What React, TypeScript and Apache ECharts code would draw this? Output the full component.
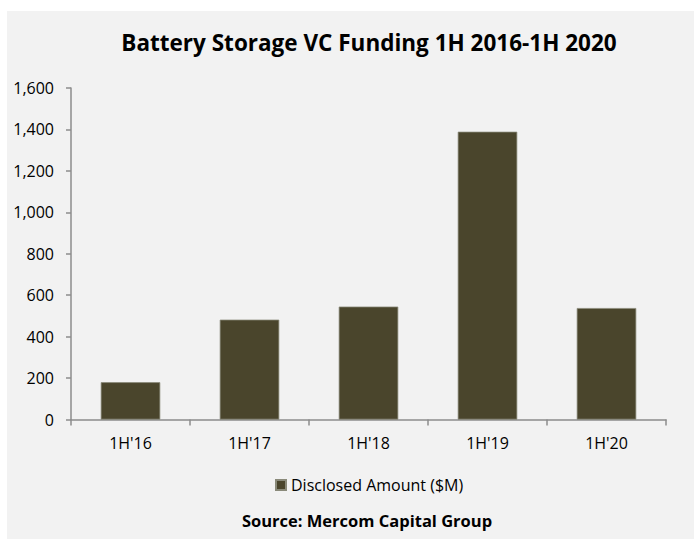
import React, { useEffect, useRef } from "react";
import * as echarts from "echarts";

const categories = ["1H'16", "1H'17", "1H'18", "1H'19", "1H'20"];
const amounts = [180, 482, 545, 1389, 538];
const seriesName = "Disclosed Amount ($M)";
const titleText = "Battery Storage VC Funding 1H 2016-1H 2020";
const sourceText = "Source: Mercom Capital Group";

const FONT = "'Open Sans', 'Noto Sans', sans-serif";

export default function App() {
  const ref = useRef<HTMLDivElement>(null);
  useEffect(() => {
    if (!ref.current) return;
    const chart = echarts.init(ref.current, null, { renderer: "svg" });
    chart.setOption({
      animation: false,
      backgroundColor: "#ffffff",
      textStyle: { fontFamily: FONT },
      graphic: [
        {
          type: "rect",
          z: -10,
          silent: true,
          shape: { x: 7, y: 11, width: 700, height: 540 },
          style: { fill: "#f2f2f2" },
        },
        {
          type: "text",
          x: 369,
          y: 42,
          style: {
            text: titleText,
            font: `bold 22.5px ${FONT}`,
            fill: "#000",
            textAlign: "center",
            textVerticalAlign: "middle",
          },
        },
        {
          type: "text",
          x: 367,
          y: 520,
          style: {
            text: sourceText,
            font: `bold 16.5px ${FONT}`,
            fill: "#000",
            textAlign: "center",
            textVerticalAlign: "middle",
          },
        },
      ],
      grid: { left: 71, right: 28, top: 88, bottom: 119.5, containLabel: false },
      legend: {
        data: [seriesName],
        left: 270,
        top: 472,
        icon: "rect",
        itemWidth: 10,
        itemHeight: 10,
        itemGap: 8,
        textStyle: { fontFamily: FONT, fontSize: 16, color: "#000" },
      },
      xAxis: {
        type: "category",
        data: categories,
        axisLine: { lineStyle: { color: "#8c8c8c", width: 1.5 } },
        axisTick: { show: true, length: 6, lineStyle: { color: "#8c8c8c", width: 1.5 } },
        axisLabel: { color: "#000", fontSize: 16, fontFamily: FONT, margin: 15 },
      },
      yAxis: {
        type: "value",
        min: 0,
        max: 1600,
        interval: 200,
        splitLine: { show: false },
        axisLine: { show: true, lineStyle: { color: "#8c8c8c", width: 1.5 } },
        axisTick: { show: true, length: 5, lineStyle: { color: "#8c8c8c", width: 1.5 } },
        axisLabel: {
          color: "#000",
          fontSize: 16,
          fontFamily: FONT,
          margin: 17,
          formatter: (v: number) => v.toLocaleString("en-US"),
        },
      },
      series: [
        {
          name: seriesName,
          type: "bar",
          data: amounts,
          barWidth: "50%",
          itemStyle: { color: "#4a452c", borderColor: "#8a8a7a", borderWidth: 0.75 },
        },
      ],
    });
    return () => chart.dispose();
  }, []);
  return (
    <div
      ref={ref}
      style={{ position: "absolute", left: 0, top: 0, width: 694, height: 539 }}
    />
  );
}
